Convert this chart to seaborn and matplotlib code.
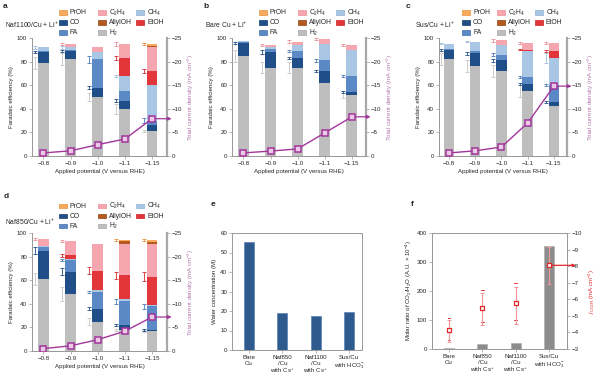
import numpy as np
import pandas as pd
import matplotlib
matplotlib.use('Agg')
import matplotlib.pyplot as plt
import seaborn as sns
from matplotlib.patches import Rectangle

sns.set_theme(style='ticks')
plt.rcParams['font.family'] = ['Liberation Sans', 'DejaVu Sans']
plt.rcParams['mathtext.fontset'] = 'custom'
plt.rcParams['mathtext.rm'] = 'Liberation Sans'
plt.rcParams['mathtext.it'] = 'Liberation Sans:italic'
plt.rcParams['mathtext.bf'] = 'Liberation Sans:bold'

W, H = 600, 378

# ---------------- data ----------------
potentials = ['\u22120.8', '\u22120.9', '\u22121.0', '\u22121.1', '\u22121.15']
products = ['H2', 'CO', 'FA', 'CH4', 'EtOH', 'C2H4', 'AllylOH', 'PrOH']

# Panel a: Naf1100/Cu + Li+  (Faradaic efficiency, %)
fe_a = dict(H2=[79, 82, 50, 40, 21], CO=[9, 7, 8, 7, 5], FA=[1, 1, 24, 8, 4],
            CH4=[3, 2, 6, 13, 30], EtOH=[0, 0, 0, 15, 12], C2H4=[0, 3, 4, 12, 20],
            AllylOH=[0, 0, 0, 0, 1.5], PrOH=[0, 0, 0, 0, 1.5])
err_a = dict(H2=[5, 5, 3, 4, 1], CO=[0.6, 0.8, 1, 1, 0], FA=[0, 0, 3, 0, 2],
             CH4=[1.5, 1.5, 0, 1, 0], EtOH=[0, 0, 0, 2, 1.5], C2H4=[0, 0.6, 0, 2, 0],
             AllylOH=[0, 0, 0, 0, 0], PrOH=[0, 0, 0, 0, 1])
j_a = [-0.65, -1.1, -2.4, -3.6, -7.9]

# Panel b: Bare Cu + Li+
fe_b = dict(H2=[85, 75, 75, 62, 52], CO=[11, 13, 8, 10, 2], FA=[0.5, 3, 6, 9, 14],
            CH4=[1, 1.5, 5, 14, 22], EtOH=[0, 0, 0, 0, 0], C2H4=[0, 1.5, 3, 4, 4],
            AllylOH=[0, 0, 0, 0, 0], PrOH=[0, 0, 0, 0, 0])
err_b = dict(H2=[5, 5, 5, 0, 3], CO=[1, 1.5, 1, 1, 1], FA=[0, 0, 1, 1, 1],
             CH4=[0, 0, 0, 0, 0], EtOH=[0, 0, 0, 0, 0], C2H4=[0, 0.5, 1, 1, 1],
             AllylOH=[0, 0, 0, 0, 0], PrOH=[0, 0, 0, 0, 0])
j_b = [-0.65, -1.05, -1.5, -4.9, -8.3]

# Panel c: Sus/Cu + Li+
fe_c = dict(H2=[82, 76, 72, 55, 42], CO=[8, 11, 9, 6, 4], FA=[1, 2, 5, 6, 14],
            CH4=[4, 8, 8, 22, 23], EtOH=[0, 0, 0, 1, 6], C2H4=[0, 0, 4, 6, 7],
            AllylOH=[0, 0, 0, 0, 0], PrOH=[0, 0, 0, 0, 0])
err_c = dict(H2=[5, 5, 5, 5, 0], CO=[1, 1, 1, 1, 1], FA=[0, 0, 1, 1, 1],
             CH4=[0.5, 0.5, 0, 0, 4], EtOH=[0, 0, 0, 0.5, 1], C2H4=[0, 0, 1, 1, 1],
             AllylOH=[0, 0, 0, 0, 0], PrOH=[0, 0, 0, 0, 0])
j_c = [-0.65, -1.1, -1.9, -7.0, -14.8]

# Panel d: Naf850/Cu + Li+
fe_d = dict(H2=[61, 48, 25, 18, 17], CO=[24, 19, 11, 4, 1], FA=[3, 10, 14, 20, 20],
            CH4=[1, 1, 2, 2, 1], EtOH=[0, 3, 16, 20, 24], C2H4=[6, 12, 23, 27, 28],
            AllylOH=[0, 0, 0, 2, 1.5], PrOH=[0, 0, 0, 1, 1.5])
err_d = dict(H2=[5, 6, 3, 1, 1], CO=[3, 3, 1, 1, 1], FA=[0, 1, 1, 2, 2],
             CH4=[0, 0, 0, 0, 0], EtOH=[0, 1, 3, 3, 4], C2H4=[1, 1, 0, 0, 0],
             AllylOH=[0, 0, 0, 0, 0], PrOH=[0, 0, 0, 1, 1])
j_d = [-0.5, -1.1, -2.4, -4.2, -7.2]

# Panel e / f
samples = ['Bare\nCu', 'Naf850\n/Cu\nwith Cs$^{+}$', 'Naf1100\n/Cu\nwith Cs$^{+}$', 'Sus/Cu\nwith HCO$_3^{-}$']
water_conc = [55.5, 19, 17.5, 19.5]
co2_h2o_ratio = [4, 17, 20, 356]
j_co2r = [-4.15, -5.5, -5.75, -8.05]
j_co2r_err_low = [0.75, 1.05, 1.25, 1.1]
j_co2r_err_high = [0.6, 0.85, 1.0, 1.1]

# ---------------- styling ----------------
colors = dict(PrOH='#F7AA5E', C2H4='#F5A6AE', CH4='#A9C6E4', CO='#1F4E88',
              AllylOH='#B4591F', EtOH='#E3363A', FA='#5B89C5', H2='#BEBEBE')
edges = dict(PrOH='#E8903A', C2H4='#EE8E98', CH4='#8DB0D6', CO='#163B69',
             AllylOH='#8F4312', EtOH='#C42428', FA='#4571AE', H2='#A8A8A8')
errcol = dict(PrOH='#E8903A', C2H4='#EE8E98', CH4='#9DBCDD', CO='#1F4E88',
              AllylOH='#8F4312', EtOH='#D62A2E', FA='#4A78B8', H2='#C4C4C4')
labels = dict(PrOH='PrOH', C2H4='C$_2$H$_4$', CH4='CH$_4$', CO='CO',
              AllylOH='AllylOH', EtOH='EtOH', FA='FA', H2='H$_2$')
PURPLE = '#A2369B'
PURPLE_L = '#B474AE'
RED = '#E0282C'
SPINE = '#9A9A9A'
FS = 4.4

fig = plt.figure(figsize=(6, 3.78), dpi=100)


def rect(l, t, r, b):
    return [l / W, 1 - b / H, (r - l) / W, (b - t) / H]


def style_axis(ax):
    for s in ax.spines.values():
        s.set_color(SPINE)
        s.set_linewidth(0.7)
    ax.tick_params(length=2, width=0.5, color=SPINE, labelsize=FS, pad=1.5)


def draw_legend(x0, y0, dx2, dx3):
    cols = [(0, ['PrOH', 'CO', 'FA']), (dx2, ['C2H4', 'AllylOH', 'H2']), (dx3, ['CH4', 'EtOH'])]
    for dx, items in cols:
        for r, p in enumerate(items):
            x = x0 + dx
            y = y0 + r * 10
            fig.patches.append(Rectangle((x / W, 1 - (y + 2.4) / H), 8 / W, 4.8 / H,
                                         transform=fig.transFigure, facecolor=colors[p],
                                         edgecolor=edges[p], lw=0.5))
            fig.text((x + 11) / W, 1 - y / H, labels[p], fontsize=4.9, va='center', ha='left')


def fe_panel(r, xlim, fe, err, jcur, letter, lpos, title, tpos, legpos):
    ax = fig.add_axes(rect(*r))
    cum = np.zeros(len(potentials))
    tops = {}
    for p in products:
        cum = cum + np.array(fe[p], dtype=float)
        tops[p] = cum.copy()
    for p in reversed(products):
        h = np.array(fe[p], dtype=float)
        t = tops[p].copy()
        t[h == 0] = np.nan
        if np.all(np.isnan(t)):
            continue
        df = pd.DataFrame({'pot': potentials, 'top': t}).dropna()
        sns.barplot(data=df, x='pot', y='top', order=potentials, color=colors[p],
                    saturation=1, width=0.4, ax=ax, errorbar=None, linewidth=0)
    for p in products:
        for i in range(len(potentials)):
            e = err[p][i]
            if e > 0 and fe[p][i] > 0:
                ax.errorbar(i - 0.31, tops[p][i], yerr=e, color=errcol[p], capsize=1.1,
                            elinewidth=0.6, capthick=0.6, fmt='none', zorder=5)
    ax.set_xlim(*xlim)
    ax.set_ylim(0, 100)
    ax.set_yticks([0, 20, 40, 60, 80, 100])
    ax.set_xlabel('Applied potential (V versus RHE)', fontsize=FS, labelpad=2.5)
    ax.set_ylabel('Faradaic efficiency (%)', fontsize=FS, labelpad=2)
    style_axis(ax)
    ax.spines['top'].set_visible(False)

    ax2 = ax.twinx()
    sns.lineplot(x=np.arange(len(potentials)), y=jcur, ax=ax2, color=PURPLE, lw=1.0,
                 marker='s', markersize=4.2, markerfacecolor='#EBC9E7',
                 markeredgecolor=PURPLE, markeredgewidth=1.1, zorder=6)
    ax2.annotate('', xy=(xlim[1] + 0.17, jcur[-1]), xytext=(4.12, jcur[-1]),
                 arrowprops=dict(arrowstyle='-|>', color=PURPLE, lw=0.9, mutation_scale=5,
                                 shrinkA=0, shrinkB=0), annotation_clip=False)
    ax2.set_xlim(*xlim)
    ax2.set_ylim(0, -25)
    ax2.set_yticks([0, -5, -10, -15, -20, -25])
    ax2.set_ylabel('Total current density (mA cm$^{-2}$)', fontsize=FS, color=PURPLE_L,
                   labelpad=2.5)
    style_axis(ax2)
    ax2.spines['top'].set_visible(False)
    ax2.spines['right'].set_linewidth(1.6)
    ax2.spines['right'].set_color('#A8A8A8')
    fig.text(lpos[0] / W, 1 - lpos[1] / H, letter, fontsize=6, fontweight='bold', va='center')
    fig.text(tpos[0] / W, 1 - tpos[1] / H, title, fontsize=4.9, va='center')
    draw_legend(*legpos)


fe_panel((32, 38, 167, 156), (-0.42, 4.55), fe_a, err_a, j_a, 'a', (3, 7),
         'Naf1100/Cu + Li$^{+}$', (5, 25), (59, 12.5, 39, 77))
fe_panel((232, 38, 366, 156), (-0.42, 4.52), fe_b, err_b, j_b, 'b', (203, 7),
         'Bare Cu + Li$^{+}$', (205, 25), (259, 12.5, 39, 77))
fe_panel((439, 38, 567, 156), (-0.38, 4.5), fe_c, err_c, j_c, 'c', (406, 7),
         'Sus/Cu + Li$^{+}$', (415, 25), (462, 12.5, 35, 73))
fe_panel((32, 233, 167, 351), (-0.42, 4.55), fe_d, err_d, j_d, 'd', (4, 197),
         'Naf850/Cu + Li$^{+}$', (5, 222), (59, 206, 39, 77))

# ---------------- panel e ----------------
axe = fig.add_axes(rect(232, 233, 362, 350))
dfe = pd.DataFrame({'sample': samples, 'water': water_conc})
sns.barplot(data=dfe, x='sample', y='water', order=samples, color='#2E5A8E', saturation=1,
            width=0.3, ax=axe, errorbar=None, edgecolor='#5C82B5', linewidth=0.5)
axe.set_xlim(-0.51, 3.39)
axe.set_ylim(0, 60)
axe.set_yticks(range(0, 61, 10))
axe.set_xlabel('')
axe.set_ylabel('Water concentration (M)', fontsize=FS, labelpad=2)
style_axis(axe)
fig.text(211 / W, 1 - 205 / H, 'e', fontsize=6, fontweight='bold', va='center')

# ---------------- panel f ----------------
axf = fig.add_axes(rect(432, 233, 567, 349))
dff = pd.DataFrame({'sample': samples, 'ratio': co2_h2o_ratio})
sns.barplot(data=dff, x='sample', y='ratio', order=samples, color='#8C8C8C', saturation=1,
            width=0.3, ax=axf, errorbar=None, edgecolor='#B0B0B0', linewidth=0.5)
axf.set_xlim(-0.51, 3.54)
axf.set_ylim(0, 400)
axf.set_yticks([0, 100, 200, 300, 400])
axf.set_xlabel('')
axf.set_ylabel('Molar ratio of CO$_2$/H$_2$O (A.U. \u00d7 10$^{-4}$)', fontsize=FS, labelpad=2)
style_axis(axf)
axf2 = axf.twinx()
xs = np.arange(len(samples))
axf2.errorbar(xs, j_co2r, yerr=[j_co2r_err_high, j_co2r_err_low], fmt='none',
              ecolor='#EE9A9C', elinewidth=0.9, capsize=1.5, capthick=0.7, zorder=4)
for i in range(len(samples)):
    axf2.plot([i - 0.04, i + 0.04], [j_co2r[i] + j_co2r_err_high[i]] * 2, color=RED, lw=0.7)
    axf2.plot([i - 0.04, i + 0.04], [j_co2r[i] - j_co2r_err_low[i]] * 2, color=RED, lw=0.7)
sns.scatterplot(x=xs, y=j_co2r, ax=axf2, marker='s', s=9, facecolor='white',
                edgecolor=RED, linewidth=0.9, zorder=6)
axf2.annotate('', xy=(3.8, j_co2r[-1]), xytext=(3.08, j_co2r[-1]),
              arrowprops=dict(arrowstyle='-|>', color=RED, lw=0.9, mutation_scale=4,
                              shrinkA=0, shrinkB=0), annotation_clip=False)
axf2.set_xlim(-0.51, 3.54)
axf2.set_ylim(-3, -10)
axf2.set_yticks(range(-3, -11, -1))
axf2.set_ylabel('$j_{\\mathrm{CO_2R}}$ (mA cm$^{-2}$)', fontsize=FS, color=RED, labelpad=2.5)
style_axis(axf2)
fig.text(411 / W, 1 - 205 / H, 'f', fontsize=6, fontweight='bold', va='center')

fig.savefig('out.png', dpi=100)
